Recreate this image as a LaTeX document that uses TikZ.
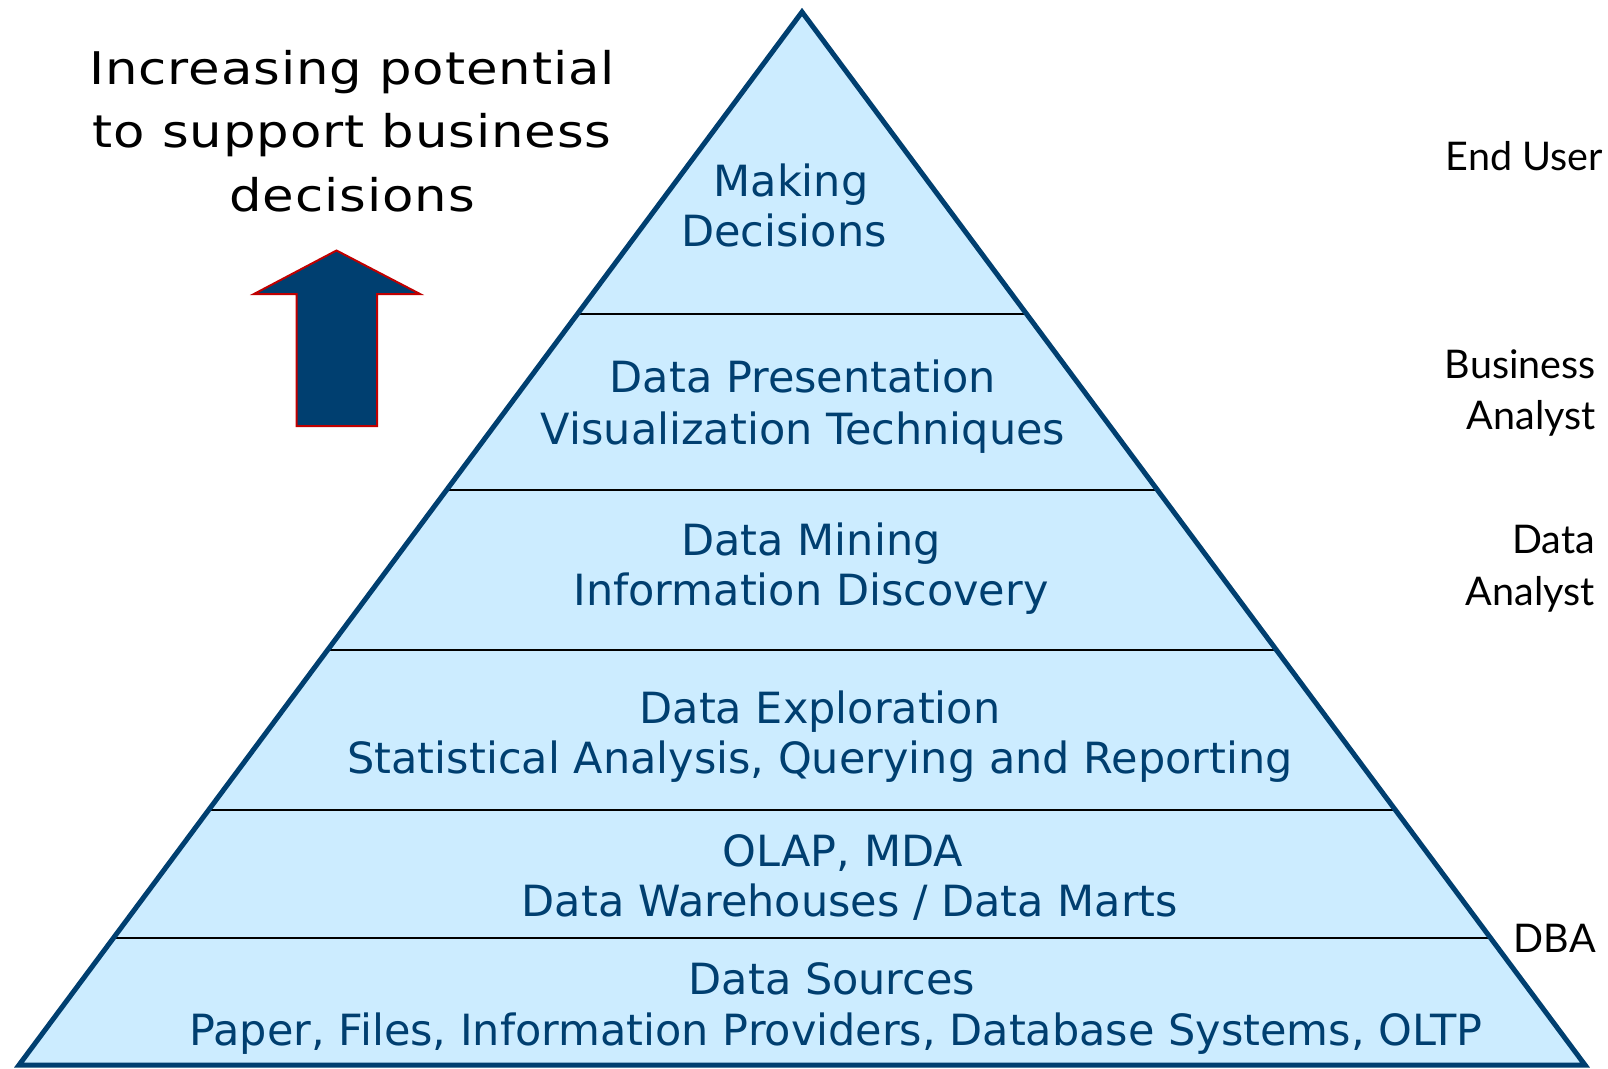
\documentclass[tikz,border=0pt]{standalone}
\usepackage{fontspec}
\usetikzlibrary{calc}
\newfontfamily\tierfont{DejaVu Sans}
\newfontfamily\captionfont[FakeStretch=1.14,LetterSpace=2]{DejaVu Sans}
\newfontfamily\rolefont{Lato}
\definecolor{navy}{HTML}{003F70}
\definecolor{paleblue}{HTML}{CCECFF}
\definecolor{arrowred}{HTML}{C00000}

\begin{document}
\begin{tikzpicture}[x=1pt,y=-1pt,
  tier/.style={font=\tierfont\fontsize{43}{50}\selectfont, text=navy, anchor=base, inner sep=0pt},
  role/.style={font=\rolefont\fontsize{39.5}{46}\selectfont, text=black, anchor=base east, inner sep=0pt},
  caption/.style={font=\captionfont\fontsize{45}{54}\selectfont, text=black, anchor=base, inner sep=0pt},
  divider/.style={line width=2pt, draw=black},
  outline/.style={line width=5pt, draw=navy, line join=miter},
  bigarrow/.style={fill=navy, draw=arrowred, line width=2pt, line join=miter},
]
\useasboundingbox (0,0) rectangle (1608,1068);

% pyramid corners
\coordinate (apex) at (802,12);
\coordinate (bl) at (19,1065);
\coordinate (br) at (1585,1065);

% body, tier dividers, outline
\fill[paleblue] (apex) -- (bl) -- (br) -- cycle;
\foreach \t in {0.2868,0.4539,0.6059,0.7578,0.8794}
  \draw[divider] ($(apex)!\t!(bl)$) -- ($(apex)!\t!(br)$);
\draw[outline] (apex) -- (bl) -- (br) -- cycle;

% tier labels
\node[tier] (t1a) at (791,196) {Making};
\node[tier] (t1b) at (784,246) {Decisions};
\node[tier] (t2a) at (803,392) {Data Presentation};
\node[tier] (t2b) at (803,444) {Visualization Techniques};
\node[tier] (t3a) at (811,555) {Data Mining};
\node[tier] (t3b) at (811,605) {Information Discovery};
\node[tier] (t4a) at (820,723) {Data Exploration};
\node[tier] (t4b) at (820,773) {Statistical Analysis, Querying and Reporting};
\node[tier] (t5a) at (843,866) {OLAP, MDA};
\node[tier] (t5b) at (850,916) {Data Warehouses / Data Marts};
\node[tier] (t6a) at (832,994) {Data Sources};
\node[tier] (t6b) at (836,1045) {Paper, Files, Information Providers, Database Systems, OLTP};

% roles on the right
\node[role] (r1) at (1603,170) {End User};
\node[role] (r2a) at (1596,378) {Business};
\node[role] (r2b) at (1596,429) {Analyst};
\node[role] (r3a) at (1595,553) {Data};
\node[role] (r3b) at (1595,605) {Analyst};
\node[role] (r4) at (1596,952) {DBA};

% caption and arrow
\node[caption] (c1) at (352,84) {Increasing potential};
\node[caption] (c2) at (352,147) {to support business};
\node[caption] (c3) at (352,211) {decisions};
\draw[bigarrow] (336.5,250.5) -- (420,294) -- (377,294) -- (377,426)
  -- (296.5,426) -- (296.5,294) -- (254,294) -- cycle;
\end{tikzpicture}
\end{document}
